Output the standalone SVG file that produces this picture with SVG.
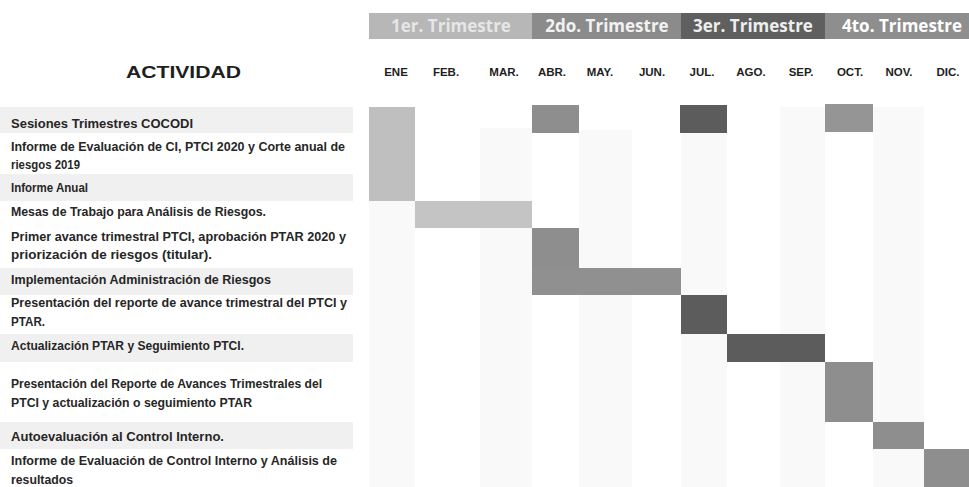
<svg xmlns="http://www.w3.org/2000/svg" width="969" height="487" viewBox="0 0 969 487">
<style>
.lbl{font-family:"Liberation Sans",Arial,sans-serif;font-size:12.5px;font-weight:bold;fill:#262626}
.mon{font-family:"Liberation Sans",Arial,sans-serif;font-size:11.5px;font-weight:bold;fill:#1e1e1e;text-anchor:middle}
.tri{font-family:"Open Sans","Liberation Sans",sans-serif;font-size:17px;font-weight:bold;text-anchor:middle}
.band{fill:#f0f0f0}
.stripe{fill:#f9f9f9}
.l{fill:#bfbfbf}
.m{fill:#8e8e8e}
.d{fill:#5c5c5c}
</style>
<rect width="969" height="487" fill="#ffffff"/>
<g id="header">
<rect x="369" y="13" width="163" height="26" fill="#b7b7b7"/>
<text class="tri" x="451" y="32" fill="#e6e6e6">1er. Trimestre</text>
<rect x="532" y="13" width="149" height="26" fill="#8b8b8b"/>
<text class="tri" x="607" y="32" fill="#f2f2f2">2do. Trimestre</text>
<rect x="681" y="13" width="144" height="26" fill="#5f5f5f"/>
<text class="tri" x="753" y="32" fill="#eeeeee">3er. Trimestre</text>
<rect x="825" y="13" width="144" height="26" fill="#8e8e8e"/>
<text class="tri" x="902" y="32" fill="#ffffff">4to. Trimestre</text>
<text x="126" y="78" font-family="'Liberation Sans',Arial,sans-serif" font-size="16" font-weight="bold" fill="#1e1e1e" textLength="115" lengthAdjust="spacingAndGlyphs">ACTIVIDAD</text>
<text class="mon" x="396" y="76">ENE</text>
<text class="mon" x="446" y="76">FEB.</text>
<text class="mon" x="504" y="76">MAR.</text>
<text class="mon" x="552" y="76">ABR.</text>
<text class="mon" x="600" y="76">MAY.</text>
<text class="mon" x="652" y="76">JUN.</text>
<text class="mon" x="702" y="76">JUL.</text>
<text class="mon" x="751" y="76">AGO.</text>
<text class="mon" x="801" y="76">SEP.</text>
<text class="mon" x="850" y="76">OCT.</text>
<text class="mon" x="899" y="76">NOV.</text>
<text class="mon" x="948" y="76">DIC.</text>
</g>
<g id="grid">
<rect class="band" x="0" y="107" width="353" height="26"/>
<rect class="band" x="0" y="174" width="353" height="27"/>
<rect class="band" x="0" y="268" width="353" height="27"/>
<rect class="band" x="0" y="334" width="353" height="28"/>
<rect class="band" x="0" y="422" width="353" height="27"/>
<rect class="stripe" x="369" y="107" width="46" height="380"/>
<rect class="stripe" x="480" y="128" width="52" height="359"/>
<rect class="stripe" x="579" y="130" width="53" height="357"/>
<rect class="stripe" x="681" y="107" width="46" height="380"/>
<rect class="stripe" x="780" y="107" width="45" height="380"/>
<rect class="stripe" x="873" y="107" width="51" height="380"/>
</g>
<g id="row1">
<text class="lbl" x="11" y="128" textLength="182" lengthAdjust="spacingAndGlyphs">Sesiones Trimestres COCODI</text>
<rect class="m" x="532" y="105" width="47" height="28"/>
<rect class="d" x="680" y="105" width="47" height="28"/>
<rect x="825" y="104" width="48" height="28" fill="#959595"/>
</g>
<g id="row2">
<text class="lbl" x="11" y="151" textLength="334" lengthAdjust="spacingAndGlyphs">Informe de Evaluación de CI, PTCI 2020 y Corte anual de</text>
<text class="lbl" x="11" y="169" textLength="69" lengthAdjust="spacingAndGlyphs">riesgos 2019</text>
</g>
<g id="row3">
<text class="lbl" x="11" y="192" textLength="77" lengthAdjust="spacingAndGlyphs">Informe Anual</text>
<rect class="l" x="369" y="107" width="46" height="94"/>
</g>
<g id="row4">
<text class="lbl" x="11" y="216" textLength="255" lengthAdjust="spacingAndGlyphs">Mesas de Trabajo para Análisis de Riesgos.</text>
<rect x="415" y="201" width="117" height="27" fill="#c4c4c4"/>
</g>
<g id="row5">
<text class="lbl" x="11" y="241" textLength="335" lengthAdjust="spacingAndGlyphs">Primer avance trimestral PTCI, aprobación PTAR 2020 y</text>
<text class="lbl" x="11" y="259" textLength="201" lengthAdjust="spacingAndGlyphs">priorización de riesgos (titular).</text>
<rect class="m" x="532" y="228" width="47" height="40"/>
</g>
<g id="row6">
<text class="lbl" x="11" y="284" textLength="260" lengthAdjust="spacingAndGlyphs">Implementación Administración de Riesgos</text>
<rect x="532" y="268" width="149" height="27" fill="#909090"/>
</g>
<g id="row7">
<text class="lbl" x="11" y="307" textLength="336" lengthAdjust="spacingAndGlyphs">Presentación del reporte de avance trimestral del PTCI y</text>
<text class="lbl" x="11" y="326" textLength="34" lengthAdjust="spacingAndGlyphs">PTAR.</text>
<rect class="d" x="681" y="295" width="46" height="39"/>
</g>
<g id="row8">
<text class="lbl" x="11" y="350" textLength="233" lengthAdjust="spacingAndGlyphs">Actualización PTAR y Seguimiento PTCI.</text>
<rect class="d" x="727" y="334" width="98" height="28"/>
</g>
<g id="row9">
<text class="lbl" x="11" y="388" textLength="311" lengthAdjust="spacingAndGlyphs">Presentación del Reporte de Avances Trimestrales del</text>
<text class="lbl" x="11" y="407" textLength="241" lengthAdjust="spacingAndGlyphs">PTCI y actualización o seguimiento PTAR</text>
<rect class="m" x="825" y="362" width="48" height="60"/>
</g>
<g id="row10">
<text class="lbl" x="11" y="441" textLength="213" lengthAdjust="spacingAndGlyphs">Autoevaluación al Control Interno.</text>
<rect class="m" x="873" y="422" width="51" height="27"/>
</g>
<g id="row11">
<text class="lbl" x="11" y="465" textLength="326" lengthAdjust="spacingAndGlyphs">Informe de Evaluación de Control Interno y Análisis de</text>
<text class="lbl" x="11" y="484" textLength="62" lengthAdjust="spacingAndGlyphs">resultados</text>
<rect class="m" x="924" y="449" width="45" height="38"/>
</g>
<g id="connectors"></g>
</svg>
